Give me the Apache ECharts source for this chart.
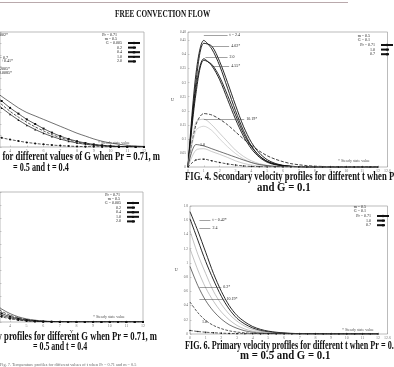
<!DOCTYPE html>
<html>
<head>
<meta charset="utf-8">
<script src="https://cdn.jsdelivr.net/npm/echarts@6/dist/echarts.min.js"></script>
<style>
  html, body { margin: 0; padding: 0; background: #fff; }
  #chart { width: 394px; height: 367px; }
</style>
</head>
<body>
<div id="chart"></div>
<script>
// distance Y, shared by every panel
const xs = [0, 0.5, 1, 1.5, 2, 2.5, 3, 3.5, 4, 4.5, 5, 5.5, 6, 6.5, 7, 7.5, 8, 8.5, 9, 9.5, 10, 10.5, 11, 11.5, 12];
const leftTicks = [4, 5, 6, 7, 8, 9, 10, 11, 12]; // the left panels are cut at Y = 3.4

// top left panel (G varies)
const tlThin   = [1.00, 0.95, 0.88, 0.80, 0.71, 0.60, 0.50, 0.44, 0.39, 0.34, 0.30, 0.27, 0.24, 0.21, 0.18, 0.15, 0.12, 0.095, 0.07, 0.05, 0.035, 0.024, 0.015, 0.009, 0.005];
const tlSquare = [1.00, 0.93, 0.85, 0.75, 0.65, 0.55, 0.46, 0.40, 0.34, 0.29, 0.24, 0.20, 0.16, 0.125, 0.095, 0.07, 0.05, 0.035, 0.023, 0.015, 0.009, 0.005, 0.003, 0.001, 0];
const tlDash   = [1.00, 0.92, 0.83, 0.72, 0.62, 0.52, 0.43, 0.37, 0.31, 0.26, 0.215, 0.175, 0.14, 0.108, 0.082, 0.06, 0.043, 0.03, 0.02, 0.013, 0.008, 0.005, 0.003, 0.001, 0];
const tlTri    = [1.00, 0.90, 0.80, 0.69, 0.58, 0.48, 0.40, 0.34, 0.285, 0.235, 0.19, 0.152, 0.12, 0.092, 0.069, 0.05, 0.035, 0.024, 0.016, 0.01, 0.006, 0.003, 0.002, 0.001, 0];
const tlDot    = [0.30, 0.26, 0.22, 0.18, 0.15, 0.12, 0.10, 0.08, 0.065, 0.052, 0.04, 0.031, 0.023, 0.017, 0.012, 0.008, 0.005, 0.003, 0.002, 0.001, 0, 0, 0, 0, 0];

// top right panel (t varies)
const trA  = [0, 0.33, 0.45, 0.42, 0.36, 0.28, 0.20, 0.13, 0.075, 0.04, 0.02, 0.01, 0.005, 0.002, 0.001, 0, 0, 0, 0, 0, 0, 0, 0, 0, 0];
const trA2 = [0, 0.30, 0.44, 0.43, 0.375, 0.30, 0.22, 0.145, 0.088, 0.05, 0.026, 0.013, 0.006, 0.003, 0.001, 0, 0, 0, 0, 0, 0, 0, 0, 0, 0];
const trB  = [0, 0.28, 0.385, 0.36, 0.31, 0.24, 0.17, 0.11, 0.065, 0.035, 0.017, 0.008, 0.004, 0.002, 0.001, 0, 0, 0, 0, 0, 0, 0, 0, 0, 0];
const trB2 = [0, 0.26, 0.38, 0.365, 0.32, 0.255, 0.185, 0.12, 0.073, 0.04, 0.02, 0.01, 0.005, 0.002, 0.001, 0, 0, 0, 0, 0, 0, 0, 0, 0, 0];
const trC  = [0, 0.15, 0.19, 0.185, 0.17, 0.15, 0.125, 0.10, 0.077, 0.057, 0.04, 0.028, 0.019, 0.012, 0.008, 0.005, 0.003, 0.002, 0.001, 0, 0, 0, 0, 0, 0];
const trG1 = [0, 0.16, 0.17, 0.15, 0.12, 0.09, 0.06, 0.038, 0.022, 0.012, 0.006, 0.003, 0.001, 0, 0, 0, 0, 0, 0, 0, 0, 0, 0, 0, 0];
const trG2 = [0, 0.13, 0.145, 0.13, 0.10, 0.072, 0.048, 0.029, 0.016, 0.008, 0.004, 0.002, 0.001, 0, 0, 0, 0, 0, 0, 0, 0, 0, 0, 0, 0];
const trD  = [0, 0.08, 0.075, 0.065, 0.055, 0.045, 0.035, 0.025, 0.016, 0.009, 0.005, 0.002, 0.001, 0, 0, 0, 0, 0, 0, 0, 0, 0, 0, 0, 0];
const trD2 = [0, 0.06, 0.065, 0.055, 0.045, 0.034, 0.022, 0.013, 0.007, 0.003, 0.001, 0, 0, 0, 0, 0, 0, 0, 0, 0, 0, 0, 0, 0, 0];
const trE  = [0, 0.025, 0.028, 0.022, 0.016, 0.011, 0.007, 0.004, 0.002, 0.001, 0, 0, 0, 0, 0, 0, 0, 0, 0, 0, 0, 0, 0, 0, 0];

// bottom left panel (G varies)
const blA = [0.90, 0.75, 0.60, 0.47, 0.35, 0.22, 0.15, 0.10, 0.065, 0.04, 0.024, 0.014, 0.008, 0.004, 0.002, 0.001, 0, 0, 0, 0, 0, 0, 0, 0, 0];
const blB = [0.80, 0.66, 0.52, 0.40, 0.29, 0.19, 0.125, 0.082, 0.052, 0.032, 0.019, 0.011, 0.006, 0.003, 0.001, 0, 0, 0, 0, 0, 0, 0, 0, 0, 0];
const blC = [0.70, 0.57, 0.45, 0.34, 0.24, 0.155, 0.10, 0.066, 0.042, 0.026, 0.015, 0.008, 0.004, 0.002, 0.001, 0, 0, 0, 0, 0, 0, 0, 0, 0, 0];
const blD = [0.60, 0.48, 0.37, 0.27, 0.19, 0.12, 0.08, 0.052, 0.033, 0.02, 0.011, 0.006, 0.003, 0.001, 0, 0, 0, 0, 0, 0, 0, 0, 0, 0, 0];
const blE = [0.50, 0.39, 0.29, 0.21, 0.14, 0.09, 0.06, 0.04, 0.025, 0.015, 0.008, 0.004, 0.002, 0.001, 0, 0, 0, 0, 0, 0, 0, 0, 0, 0, 0];

// bottom right panel (t varies)
const brA = [1.72, 1.45, 1.15, 0.85, 0.60, 0.40, 0.26, 0.17, 0.105, 0.065, 0.04, 0.025, 0.015, 0.009, 0.005, 0.003, 0.002, 0.001, 0, 0, 0, 0, 0, 0, 0];
const brB = [1.62, 1.32, 1.02, 0.76, 0.53, 0.35, 0.22, 0.14, 0.085, 0.05, 0.03, 0.018, 0.01, 0.006, 0.003, 0.002, 0.001, 0, 0, 0, 0, 0, 0, 0, 0];
const brC = [1.45, 1.12, 0.85, 0.60, 0.42, 0.28, 0.18, 0.11, 0.065, 0.038, 0.022, 0.012, 0.007, 0.004, 0.002, 0.001, 0, 0, 0, 0, 0, 0, 0, 0, 0];
const brD = [1.20, 0.90, 0.65, 0.46, 0.31, 0.20, 0.12, 0.07, 0.04, 0.023, 0.012, 0.006, 0.003, 0.002, 0.001, 0, 0, 0, 0, 0, 0, 0, 0, 0, 0];
const brE = [0.95, 0.68, 0.47, 0.32, 0.21, 0.13, 0.08, 0.045, 0.025, 0.013, 0.007, 0.003, 0.002, 0.001, 0, 0, 0, 0, 0, 0, 0, 0, 0, 0, 0];
const brF = [0.45, 0.30, 0.19, 0.12, 0.075, 0.045, 0.027, 0.016, 0.009, 0.005, 0.003, 0.002, 0.001, 0, 0, 0, 0, 0, 0, 0, 0, 0, 0, 0, 0];
const brG = [0.05, 0.035, 0.025, 0.018, 0.012, 0.008, 0.005, 0.003, 0.002, 0.001, 0, 0, 0, 0, 0, 0, 0, 0, 0, 0, 0, 0, 0, 0, 0];

// curve labels with leader lines: [text, x from, x to, value]
const trNotes = [["t = 2.4", 1.0, 2.5, 0.47], ["4.02*", 1.5, 2.6, 0.43], ["2.0", 1.1, 2.5, 0.39], ["4.55*", 1.6, 2.6, 0.36], ["10.19*", 1.0, 3.55, 0.17]];
const brNotes = [["t = 0.42*", 0.6, 1.3, 1.60], ["2.4", 0.6, 1.3, 1.49], ["0.2*", 0.6, 2.0, 0.66], ["10.19*", 0.6, 2.2, 0.49]];

const legendText = {
  tl1: "G = 0.005", tl2: "0.2", tl3: "0.4", tl4: "1.0", tl5: "2.0",
  tr1: "Pr = 0.71", tr2: "1.0", tr3: "0.7",
  bl1: "G = 0.005", bl2: "0.2", bl3: "0.4", bl4: "1.0", bl5: "2.0",
  br1: "Pr = 0.71", br2: "1.0", br3: "0.7"
};

const serif = '"Liberation Serif", "DejaVu Serif", serif';
const chart = echarts.init(document.getElementById("chart"));

function curve(name, idx, vals, opt) {
  opt = opt || {};
  return {
    name: name, type: "line", xAxisIndex: idx, yAxisIndex: idx,
    data: xs.map((x, i) => [x, vals[i]]),
    smooth: 0.3, animation: false, silent: true, clip: true,
    showSymbol: !!opt.symbol, showAllSymbol: true,
    symbol: opt.symbol || "none", symbolSize: opt.size || 2,
    itemStyle: { color: opt.color || "#111" },
    lineStyle: { color: opt.color || "#111", width: opt.width || 0.7, type: opt.type || "solid" },
    markLine: opt.notes ? {
      symbol: "none", silent: true, animation: false,
      lineStyle: { color: "#444", width: 0.5, type: "solid" },
      label: { position: "end", fontSize: 4, fontFamily: serif, color: "#222", distance: 2 },
      data: opt.notes.map(n => [{ coord: [n[1], n[3]], label: { formatter: n[0] } }, { coord: [n[2], n[3]] }])
    } : undefined
  };
}

function xAx(idx, min, max, custom) {
  const ax = {
    gridIndex: idx, type: "value", min: min, max: max, interval: 1,
    name: "Y", nameLocation: "middle", nameGap: 1,
    nameTextStyle: { fontSize: 5, fontFamily: serif, color: "#333" },
    axisLine: { show: false }, splitLine: { show: false },
    axisTick: { show: true, inside: true, length: 1.5, lineStyle: { color: "#999", width: 0.5 } },
    axisLabel: { show: true, fontSize: 4, fontFamily: serif, color: "#777", margin: 2 }
  };
  if (custom) {
    ax.axisTick.customValues = custom;
    ax.axisLabel.customValues = custom;
  }
  return ax;
}
function yAx(idx, max, interval, showLabels) {
  return {
    gridIndex: idx, type: "value", min: 0, max: max, interval: interval,
    name: showLabels ? "U" : "", nameLocation: "middle", nameGap: 4, nameRotate: 0,
    nameTextStyle: { fontSize: 4, fontFamily: serif, color: "#333" },
    axisLine: { show: false }, splitLine: { show: false },
    axisTick: { show: true, inside: true, length: 1.5, lineStyle: { color: "#999", width: 0.5 } },
    axisLabel: { show: showLabels, fontSize: 3.5, fontFamily: serif, color: "#666", margin: 2,
      formatter: v => (Math.abs(v - Math.round(v)) < 1e-9 ? String(Math.round(v)) : v.toFixed(2).replace(/0$/, "")) }
  };
}
function leg(names, right, top) {
  return {
    data: names, orient: "vertical", right: right, top: top, align: "right",
    itemWidth: 12, itemHeight: 3, itemGap: 0.6, padding: 0,
    formatter: n => legendText[n],
    textStyle: { fontSize: 4, lineHeight: 4, fontFamily: serif, color: "#222", padding: [0, 1, 0, 0] }
  };
}
function txt(text, x, y, font, opt) {
  opt = opt || {};
  return {
    type: "text", x: x, y: y, scaleX: opt.sx || 1, silent: true,
    style: { text: text, font: font, fill: opt.fill || "#111", textAlign: opt.align || "left", textVerticalAlign: "middle" }
  };
}

const capFont = "bold 12px " + serif;
const tiny = "4px " + serif;

chart.setOption({
  backgroundColor: "#fff",
  animation: false,
  grid: [
    { left: 0, top: 32, width: 144, height: 115, show: true, borderColor: "#aaa", borderWidth: 0.8 },
    { left: 188, top: 32, width: 210, height: 135, show: true, borderColor: "#aaa", borderWidth: 0.8 },
    { left: 0, top: 192, width: 143, height: 130, show: true, borderColor: "#aaa", borderWidth: 0.8 },
    { left: 190, top: 206, width: 208, height: 128, show: true, borderColor: "#aaa", borderWidth: 0.8 }
  ],
  xAxis: [xAx(0, 3.4, 12, leftTicks), xAx(1, 0, 12.6), xAx(2, 3.4, 12, leftTicks), xAx(3, 0, 12.6)],
  yAxis: [yAx(0, 1, 0.1, false), yAx(1, 0.48, 0.05, true), yAx(2, 1, 0.1, false), yAx(3, 1.8, 0.2, true)],
  legend: [
    leg(["tl1", "tl2", "tl3", "tl4", "tl5"], 253, 41),
    leg(["tr1", "tr2", "tr3"], 0, 43),
    leg(["bl1", "bl2", "bl3", "bl4", "bl5"], 254, 201),
    leg(["br1", "br2", "br3"], 4, 214)
  ],
  series: [
    curve("tl1", 0, tlThin, { width: 0.6 }),
    curve("tl2", 0, tlDash, { type: "dashed" }),
    curve("tl3", 0, tlSquare, { symbol: "rect", size: 2 }),
    curve("tl4", 0, tlTri, { symbol: "triangle", size: 2 }),
    curve("tl5", 0, tlDot, { type: "dashed", symbol: "circle", size: 2 }),

    curve("tr1", 1, trA, { width: 0.9, notes: trNotes }),
    curve("tr1", 1, trA2, { width: 0.9 }),
    curve("tr1", 1, trB, { width: 0.9 }),
    curve("tr1", 1, trB2, { width: 0.9 }),
    curve("tr2", 1, trC, { type: "dashed", width: 0.8 }),
    curve("tr1", 1, trG1, { color: "#aaa", width: 0.6 }),
    curve("tr1", 1, trG2, { color: "#bbb", width: 0.6 }),
    curve("tr1", 1, trD, { width: 0.6 }),
    curve("tr1", 1, trD2, { color: "#aaa", width: 0.6 }),
    curve("tr3", 1, trE, { type: "dashed", symbol: "circle", size: 1.5 }),

    curve("bl1", 2, blA, { width: 0.6 }),
    curve("bl2", 2, blB, { type: "dashed" }),
    curve("bl3", 2, blC, { symbol: "rect", size: 2 }),
    curve("bl4", 2, blD, { symbol: "triangle", size: 2 }),
    curve("bl5", 2, blE, { type: "dashed", symbol: "circle", size: 2 }),

    curve("br1", 3, brA, { width: 0.9, notes: brNotes }),
    curve("br1", 3, brB, { width: 0.9 }),
    curve("br1", 3, brC, { color: "#999", width: 0.6 }),
    curve("br1", 3, brD, { color: "#999", width: 0.6 }),
    curve("br1", 3, brE, { width: 0.6 }),
    curve("br2", 3, brF, { type: "dashed", width: 0.7 }),
    curve("br3", 3, brG, { type: "dashed", symbol: "circle", size: 1.5 })
  ],
  graphic: [
    { type: "line", silent: true, shape: { x1: 0, y1: 2.5, x2: 348, y2: 2.5 }, style: { stroke: "#b9a9ac", lineWidth: 1 } },
    txt("FREE CONVECTION FLOW", 115, 14, "bold 11px " + serif, { sx: 0.66 }),

    txt("Pr = 0.71", 117, 35, tiny, { align: "right" }),
    txt("m = 0.5", 117, 38.5, tiny, { align: "right" }),
    txt("Pr = 0.71", 120, 195, tiny, { align: "right" }),
    txt("m = 0.5", 120, 198.5, tiny, { align: "right" }),
    txt("m = 0.5", 370, 36, tiny, { align: "right" }),
    txt("G = 0.1", 370, 40, tiny, { align: "right" }),
    txt("m = 0.5", 366, 207, tiny, { align: "right" }),
    txt("G = 0.1", 366, 211, tiny, { align: "right" }),

    txt("1.002*", 8, 35, tiny, { align: "right" }),
    txt("t = 0.7", 8, 58, tiny, { align: "right" }),
    txt("+0.41*", 13, 61, tiny, { align: "right" }),
    txt("0.2005*", 10, 69, tiny, { align: "right" }),
    txt("0.0085*", 12, 72.5, tiny, { align: "right" }),
    txt("1.0", 200, 145, tiny),
    txt("1.0", 202, 322, tiny),

    txt("* Steady state value", 98, 143, tiny, { fill: "#555" }),
    txt("* Steady state value", 338, 161, tiny, { fill: "#555" }),
    txt("* Steady state value", 93, 317, tiny, { fill: "#555" }),
    txt("* Steady state value", 342, 330, tiny, { fill: "#555" }),

    txt("Fig. 3. Primary velocity profiles for different values of G when Pr = 0.71, m", 160, 157, capFont, { align: "right", sx: 0.72 }),
    txt("= 0.5 and t = 0.4", 13, 168, capFont, { sx: 0.68 }),
    txt("FIG. 4. Secondary velocity profiles for different t when Pr = 0.71, m = 0.5", 185, 177, capFont, { sx: 0.72 }),
    txt("and G = 0.1", 257, 188, capFont, { sx: 0.9 }),
    txt("Fig. 5. Secondary velocity profiles for different G when Pr = 0.71, m", 157, 337, capFont, { align: "right", sx: 0.72 }),
    txt("= 0.5 and t = 0.4", 33, 347, capFont, { sx: 0.66 }),
    txt("FIG. 6. Primary velocity profiles for different t when Pr = 0.71,", 185, 346, capFont, { sx: 0.68 }),
    txt("m = 0.5 and G = 0.1", 240, 356, capFont, { sx: 0.9 }),
    txt("Fig. 7. Temperature profiles for different values of t when Pr = 0.71 and m = 0.5", 0, 365, "5px " + serif, { fill: "#666", sx: 0.85 })
  ]
});
</script>
</body>
</html>
